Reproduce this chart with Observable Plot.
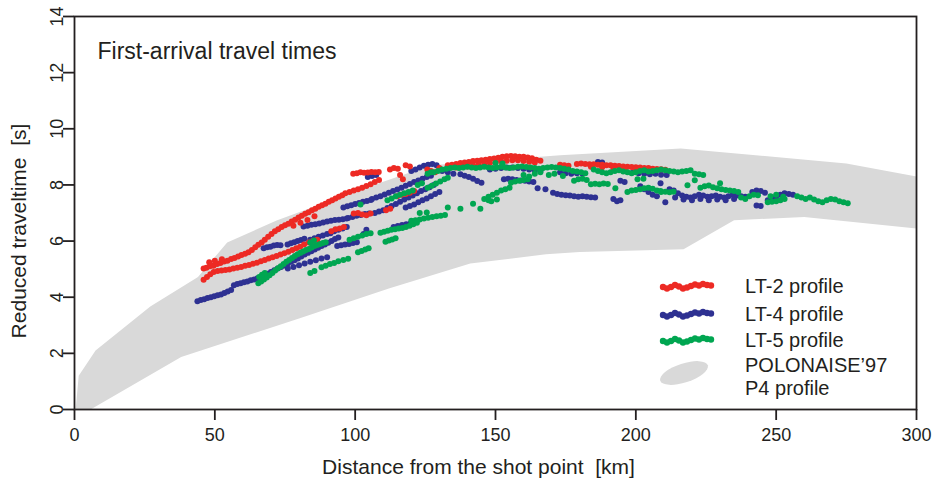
<!DOCTYPE html>
<html><head><meta charset="utf-8">
<script src="https://cdn.jsdelivr.net/npm/d3@7"></script>
<script src="https://cdn.jsdelivr.net/npm/@observablehq/plot@0.6"></script>
<style>
body{margin:0;background:#fff;}
svg text{white-space:pre;}
</style></head>
<body><div id="chart"></div>
<script>
const xTicks = [0,50,100,150,200,250,300];
const yTicks = [0,2,4,6,8,10,12,14];
const titleText = "First-arrival travel times";
const xLabel = "Distance from the shot point  [km]";
const yLabel = "Reduced traveltime  [s]";
const legendLabels = ["LT-2 profile","LT-4 profile","LT-5 profile","POLONAISE\u201997","P4 profile"];

// POLONAISE'97 P4 envelope [km, s]
const bandUpper = [[0.4,0],[1.5,1.2],[7.5,2.1],[27,3.67],[44,4.72],[54.4,5.95],[72,6.73],[102,7.84],[127,8.7],[166,9.0],[173,9.06],[216,9.3],[275,8.76],[300,8.3]];
const bandLower = [[300,6.45],[260,6.86],[235,6.74],[217,5.71],[180,5.61],[168,5.53],[141,5.2],[112,4.31],[80,3.24],[38,1.87],[5.7,0]];

// LT-2 profile picks [km, s]
const lt2 = [
[46,5.02],[47,5.05],[48.2,5.1],[49.5,5.12],[50.8,5.18],[52,5.22],[53.3,5.27],[54.5,5.3],[55.8,5.36],[57,5.4],[58.3,5.45],[59.5,5.5],[60.8,5.55],[62,5.6],[63.2,5.68],[64.4,5.78],[65.5,5.87],[66.7,5.95],[67.8,6.05],[69,6.15],[70.2,6.25],[71.4,6.35],[72.6,6.42],[73.8,6.5],[75,6.56],[76.2,6.62],[77.4,6.7],[78.6,6.76],[79.8,6.84],[81,6.9],[82.2,6.97],[83.4,7.03],[84.6,7.1],[85.8,7.15],[87,7.22],[88.2,7.28],[89.4,7.33],[90.6,7.4],[91.8,7.45],[93,7.52],[94.2,7.58],[95.4,7.63],
[48,5.25],[50,5.3],[52.5,5.35],[78,6.55],[80.5,6.65],[83,6.75],[85.5,6.88],
[96.5,7.7],[98,7.75],[99.5,7.8],[101,7.85],[102.5,7.9],[104,7.96],[105.5,8.02],[107,8.1],[108.5,8.18],
[46,4.62],[47.2,4.72],[48.4,4.82],[49.6,4.9],[51,4.93],[52.4,4.95],[53.8,4.97],[55.2,4.99],[56.6,5.02],[58,5.05],[59.4,5.08],[60.8,5.12],[62.2,5.15],[63.6,5.19],[65,5.23],[66.4,5.28],[67.8,5.33],[69.2,5.38],[70.6,5.42],[72,5.47],[73.4,5.52],[74.8,5.57],[76.2,5.62],[77.6,5.68],[79,5.74],[80.4,5.8],[81.8,5.88],[83.5,5.95],[85,6.0],[86.5,6.05],[91.5,6.35],[93,6.42],[94.5,6.45],[96,6.5],
[99.5,6.98],[101,7.0],[102.5,6.95],[104,6.92],[105.5,6.98],[111,7.1],[112.5,7.15],
[115,7.6],[116.5,7.65],[118,7.68],[119.5,7.72],[121,7.78],[116,8.35],[117,8.2],
[99.3,8.4],[100.6,8.42],[101.9,8.45],[103.2,8.43],[104.5,8.44],[105.8,8.46],[107.1,8.45],[108.4,8.46],[112.4,8.55],[113.8,8.6],[115.2,8.58],[118,8.7],[119.5,8.66],[125.7,8.55],[127,8.5],[128.5,8.45],[130,8.6],
[133,8.7],[134.5,8.72],[136,8.75],[137.5,8.78],[139,8.8],[140.5,8.82],[142,8.85],[143.5,8.86],[145,8.88],[146.5,8.9],[148,8.92],[149.5,8.94],[151,8.97],[152.5,9.0],[154,9.02],[155.5,9.03],[157,9.02],[158.5,9.0],[160,9.0],[161.5,8.98],[163,8.95],[164.5,8.9],[166,8.86],
[136,8.62],[138,8.65],[140,8.66],[142,8.7],[144,8.72],[146,8.75],[148,8.78],[150,8.8],[152,8.84],[154,8.86],[156,8.88],[158,8.88],[160,8.85],[162,8.83],[164,8.8],
[173,8.72],[174.5,8.7],[176,8.68],
[179,8.75],[180.5,8.76],[182,8.75],[183.5,8.74],[185,8.74],[186.5,8.72],[188,8.72],[189.5,8.7],[191,8.7],[192.5,8.68],[194,8.67],[195.5,8.66],[197,8.65],[198.5,8.64],[200,8.63],[201.5,8.62],[203,8.6],[204.5,8.6],[206,8.58],[207.5,8.57],[209,8.56],[210.5,8.54],
[184,8.65],[188,8.63],[192,8.6],[196,8.58],[200,8.56]
];

// LT-4 profile picks [km, s]
const lt4 = [
[43.8,3.86],[45,3.9],[46.2,3.93],[47.4,3.97],[48.6,4.0],[49.8,4.03],[51,4.07],[52.2,4.1],[53.4,4.15],[54.6,4.2],[55.8,4.26],
[56.8,4.43],[58,4.47],[59.2,4.5],[60.4,4.53],[61.6,4.56],[62.8,4.6],[64,4.63],[65.2,4.68],[66.4,4.72],[67.6,4.78],[68.8,4.84],[70,4.9],[71.2,4.96],[72.4,5.02],[73.6,5.08],[74.8,5.13],[76,5.2],[77.2,5.26],[78.4,5.32],[79.6,5.38],[80.8,5.45],[82,5.52],[83.2,5.58],[84.4,5.64],[85.6,5.7],[86.8,5.76],[88,5.82],[89.2,5.88],[90.4,5.94],[91.6,6.0],[92.8,6.07],[94,6.13],
[76,5.02],[78,5.08],[80,5.14],[82,5.2],[84,5.26],[86,5.32],[88,5.38],[90,5.42],
[67.4,5.74],[68.6,5.78],[69.8,5.8],[71,5.84],[72.2,5.86],[73.4,5.85],
[75.9,5.88],[77.1,5.92],[78.3,5.96],[79.5,6.0],[80.7,6.04],[81.9,6.08],
[84,6.05],[85.5,6.1],[87,6.15],[88.5,6.2],[90,6.25],[91.2,6.28],
[81.6,6.52],[83,6.55],[84.4,6.58],[85.8,6.6],[87.2,6.63],[88.6,6.66],[90,6.7],[91.4,6.72],[92.8,6.75],[94.2,6.76],[95.6,6.78],[97,6.8],
[97.5,6.82],[99,6.86],[100.5,6.9],[102,6.93],[103.5,6.96],[105,6.98],
[95.8,7.2],[97.2,7.24],[98.6,7.28],[100,7.32],[101.4,7.36],[102.8,7.4],[104.2,7.43],[105.6,7.46],
[107,7.0],[108.5,7.05],[110,7.1],[111.5,7.18],[113,7.25],[114.5,7.32],[116,7.4],[117.5,7.48],[119,7.55],[120.5,7.62],[122,7.7],[123.5,7.78],[125,7.85],[126.5,7.92],[128,8.0],
[106,7.5],[107.5,7.55],[109,7.6],[110.5,7.66],[112,7.72],[113.5,7.78],[115,7.84],[116.5,7.9],[118,7.97],[119.5,8.03],[121,8.1],[122.5,8.16],[124,8.22],[125.5,8.28],[127,8.33],
[118,7.2],[119.5,7.25],[121,7.3],[122.5,7.38],[124,7.45],[125.5,7.52],[127,7.6],[128.5,7.68],[130,7.75],
[104.5,8.28],[106,8.32],[107.5,8.35],
[120,8.5],[121.5,8.55],[123,8.62],[124.5,8.68],[126,8.72],[127.5,8.75],[129,8.7],
[113.7,6.5],[115.2,6.54],[116.7,6.57],[118.2,6.6],[119.7,6.63],
[103,6.25],[104,6.4],
[93.6,5.82],[95,5.85],[96.4,5.88],[97.8,5.9],[99.2,5.93],[100.6,5.96],
[92.5,6.35],[94,6.4],[95.5,6.45],[97,6.5],
[131,8.5],[133,8.45],[135,8.4],
[137.5,8.38],[139,8.33],[140.5,8.28],[142,8.22],[143.5,8.14],[145,8.08],
[153,8.2],[154.5,8.22],[156,8.2],[157.5,8.18],[159,8.16],[160.5,8.15],[162,8.12],[163.5,8.1],
[148,8.55],[150,8.58],[152,8.6],[154,8.62],[156,8.62],[158,8.6],[160,8.58],[162,8.55],[164,8.52],[166,8.5],
[165,7.88],[167.8,7.85],
[170.5,7.72],[172,7.68],[173.5,7.65],[175,7.63],[176.5,7.62],[178,7.6],[179.5,7.58],[181,7.6],[182.5,7.58],[184,7.56],[185.5,7.55],
[192,7.5],[193.3,7.42],[194.5,7.45],
[186.5,8.82],[188,8.8],
[199,8.45],[201,8.42],[203,8.4],[205,8.38],[207,8.4],[209,8.36],[211,8.35],
[173,8.45],[175,8.42],[177,8.4],[179,8.42],[181,8.4],
[194.5,8.15],[196,8.1],
[201.6,7.95],[203,7.85],[204.5,7.75],[206,7.65],[207.5,7.6],
[208.8,8.06],[210.5,7.38],
[212,7.85],[213.5,7.8],[215,7.7],[216.5,7.62],[218,7.58],[219.5,7.55],[221,7.6],[222.5,7.65],[224,7.62],[225.5,7.58],[227,7.6],[228.5,7.62],[230,7.58],[231.5,7.55],[233,7.6],[234.5,7.65],[236,7.62],[237.5,7.6],[239,7.58],
[214,7.55],[217,7.48],[220,7.45],[223,7.5],[226,7.45],[229,7.48],[232,7.45],[235,7.5],
[241.5,7.75],[243,7.8],[244.5,7.78],[246,7.72],
[243,7.27],[244.5,7.25],
[247,7.45],[248.5,7.5],[250,7.6],[251.5,7.65],[253,7.7],[254.5,7.68],[256,7.65]
];

// LT-5 profile picks [km, s]
const lt5 = [
[65.5,4.5],[66.5,4.56],[67.5,4.63],[68.5,4.7],[69.5,4.78],[70.5,4.86],[71.5,4.95],[72.5,5.03],[73.5,5.1],[74.5,5.18],[75.5,5.26],[76.5,5.33],[77.5,5.4],[78.5,5.47],[79.5,5.53],[80.5,5.58],[81.5,5.63],[82.5,5.68],[83.5,5.72],[84.5,5.77],[85.5,5.82],[86.5,5.86],[87.5,5.9],[88.5,5.93],[89.5,5.96],
[65.8,4.72],[66.8,4.8],[67.8,4.86],[84,5.95],[85.3,6.02],
[84,4.86],[85.5,4.93],[88,5.07],[89.5,5.12],[91,5.18],[92.5,5.22],[94,5.28],[95.8,5.33],[97.5,5.37],
[101,5.6],[102.3,5.65],[103.6,5.7],[104.8,5.74],
[98,6.05],[99.5,6.1],[101,6.15],[102.5,6.2],[104,6.25],[105.5,6.28],
[110.8,5.98],[112,6.02],[113.2,6.06],[114.4,6.1],
[109,6.3],[110.3,6.33],[111.6,6.37],[112.9,6.4],[114.2,6.42],[115.5,6.45],[116.8,6.47],[118.1,6.5],[119.4,6.55],[120.7,6.6],[122,6.65],
[120,6.72],[121.5,6.74],[123,6.77],[124.5,6.8],[126,6.83],[127.5,6.86],[129,6.88],[130.5,6.9],[132,6.93],[123,7.0],[125.5,7.02],
[133,7.2],[137.5,7.15],[142,7.33],[144.6,7.15],[147.5,7.45],
[146,7.5],[147.5,7.58],[149,7.65],[150.5,7.72],[152,7.8],[153.5,7.85],[155,7.9],[148.5,7.42],[150.5,7.48],
[155.5,8.08],[157,8.12],[158.5,8.15],[160,8.18],[161.5,8.2],
[125.8,7.9],[127.3,7.97],[128.8,8.05],[130.3,8.12],[131.8,8.2],[133,8.26],
[111.5,7.45],[113,7.52],[114.5,7.6],[116,7.65],[117.5,7.7],[119,7.75],[120.5,7.8],
[122.3,8.0],[123.8,8.06],
[125.8,8.4],[127,8.45],[101.9,7.3],
[128,8.45],[129.5,8.5],[131,8.55],[132.5,8.58],[134,8.6],[135.5,8.62],[137,8.6],[138.5,8.62],[140,8.65],[141.5,8.62],[143,8.6],[144.5,8.62],[146,8.65],[147.5,8.62],[149,8.6],[150.5,8.62],[152,8.65],[153.5,8.62],[155,8.6],[156.5,8.62],[158,8.65],[159.5,8.66],[161,8.64],[162.5,8.62],[164,8.6],[165.5,8.58],[167,8.6],[168.5,8.62],[170,8.64],[171.5,8.62],[173,8.6],[174.5,8.58],[176,8.55],[177.5,8.5],[179,8.48],[180.5,8.45],[182,8.42],
[150,8.78],[152.5,8.76],
[160,8.35],[162,8.3],[164,8.4],[166,8.45],[169,8.35],[171,8.4],[174,8.32],
[178,8.15],[179.5,8.2],[181,8.22],[182.5,8.18],
[184,8.02],[185.5,8.04],[187,8.02],[188.5,8.05],[190,8.03],
[185,8.55],[186.5,8.5],[188,8.45],[189.5,8.42],[191,8.45],[192.5,8.5],[194,8.52],[195.5,8.48],[197,8.45],[198.5,8.42],[200,8.45],[201.5,8.5],[203,8.52],[204.5,8.48],[206,8.5],[207.5,8.52],[209,8.55],[210.5,8.52],[212,8.5],[213.5,8.48],[215,8.45],[216.5,8.48],[218,8.5],[219.5,8.52],[221,8.4],[222.5,8.38],[224,8.35],
[192.7,7.88],[197,7.75],[198.5,7.8],[200,7.82],[201.5,7.85],[203,7.88],[204.5,7.9],[206,7.86],[207.5,7.8],[209,7.75],
[200.6,8.2],[202.7,8.22],
[208.8,7.78],[210.5,7.76],[212,7.74],[213.4,7.76],
[218.4,7.99],[221,8.17],
[223,7.9],[224.5,7.95],[226,7.98],[227.5,7.92],[229,7.88],[230.5,7.85],[232,7.82],[233.5,7.8],[235,7.78],[236.5,7.75],[230,8.06],
[237.5,7.55],[239,7.5],[240.5,7.6],[242,7.65],[243.5,7.63],
[247,7.38],[248.5,7.4],[250,7.42],[251.5,7.45],[253,7.5],[248,7.6],[250,7.65],[252.5,7.58],
[257.5,7.6],[259,7.55],[260.5,7.5],[262,7.55],[263.5,7.48],[265,7.42],[266.5,7.38],[268,7.45],[269.5,7.5],[271,7.48],[272.5,7.42],[274,7.38],[275.5,7.35]
];

const colors = {red:"#ed2a24", blue:"#2e3192", green:"#00a651", grey:"#d9d9d9", ink:"#231f20"};
const FONT = "'Liberation Sans', Arial, Helvetica, sans-serif";

const band = bandUpper.concat(bandLower);
const pts = (arr) => arr.map(([km, s]) => ({km, s}));

const plot = Plot.plot({
  width: 933, height: 480,
  marginLeft: 74, marginRight: 17, marginTop: 16, marginBottom: 71,
  style: {fontFamily: FONT, fontSize: "18px", color: colors.ink, background: "#fff"},
  x: {domain: [0, 300]},
  y: {domain: [0, 14]},
  marks: [
    Plot.line(band, {x: d => d[0], y: d => d[1], fill: colors.grey, stroke: "none", curve: "linear-closed"}),
    Plot.dot(pts(lt4), {x: "km", y: "s", r: 3, fill: colors.blue, stroke: "none"}),
    Plot.dot(pts(lt2), {x: "km", y: "s", r: 3, fill: colors.red, stroke: "none"}),
    Plot.dot(pts(lt5), {x: "km", y: "s", r: 3, fill: colors.green, stroke: "none"}),
    Plot.axisX({ticks: xTicks, tickSize: 11, tickPadding: 8, label: null, fontSize: 18, strokeWidth: 1.8, stroke: colors.ink, fill: colors.ink}),
    Plot.axisY({ticks: yTicks, tickSize: 11, tickFormat: () => "", label: null, strokeWidth: 1.8, stroke: colors.ink}),
    Plot.text(yTicks, {y: d => d, text: d => String(d), frameAnchor: "left", rotate: -90, textAnchor: "middle", lineAnchor: "bottom", dx: -12, fontSize: 18, fill: colors.ink}),
    Plot.frame({stroke: colors.ink, strokeWidth: 1.8}),
    Plot.text([titleText], {frameAnchor: "top-left", textAnchor: "start", lineAnchor: "bottom", dx: 23, dy: 42, fontSize: 23, fill: colors.ink}),
    Plot.text([xLabel], {frameAnchor: "bottom", textAnchor: "middle", lineAnchor: "bottom", dx: -17, dy: 64, fontSize: 21, fill: colors.ink}),
    Plot.text([yLabel], {frameAnchor: "left", textAnchor: "middle", lineAnchor: "bottom", rotate: -90, dx: -49, dy: 18, fontSize: 21, fill: colors.ink})
  ]
});

// Legend inside plot area
const svg = d3.select(plot);
const lg = svg.append("g").attr("font-family", FONT).attr("font-size", 20).attr("fill", colors.ink).attr("text-anchor", "start");
const wiggle = [[0,1],[4,2.5],[8,1],[12,-1],[16,0.5],[20,2.5],[24,1.5],[28,0],[32,-1.5],[36,-0.5],[40,-2],[44,-1],[48,-0.5]];
const legendRows = [
  {c: colors.red, y: 286, label: legendLabels[0]},
  {c: colors.blue, y: 314, label: legendLabels[1]},
  {c: colors.green, y: 340, label: legendLabels[2]}
];
legendRows.forEach(row => {
  lg.append("g").selectAll("circle").data(wiggle).join("circle")
    .attr("cx", d => 663 + d[0]).attr("cy", d => row.y + d[1]).attr("r", 3.2).attr("fill", row.c);
  lg.append("text").attr("x", 745).attr("y", row.y + 7).attr("text-anchor", "start").text(row.label);
});
lg.append("ellipse").attr("cx", 684).attr("cy", 373).attr("rx", 25).attr("ry", 9.5)
  .attr("transform", "rotate(-18 684 373)").attr("fill", colors.grey);
lg.append("text").attr("x", 745).attr("y", 372).attr("text-anchor", "start").text(legendLabels[3]);
lg.append("text").attr("x", 745).attr("y", 395).attr("text-anchor", "start").text(legendLabels[4]);

document.getElementById("chart").appendChild(plot);
</script>
</body></html>
